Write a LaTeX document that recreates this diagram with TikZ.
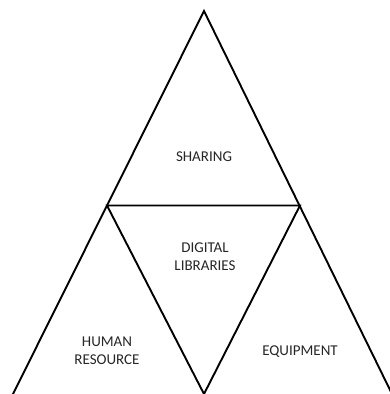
\documentclass[tikz,border=0pt]{standalone}
\usepackage{fontspec}
\setmainfont{Carlito}
\begin{document}
\begin{tikzpicture}[x=1bp,y=-1bp,
  edge/.style={line width=1.9bp,line join=miter},
  lbl/.style={font=\fontsize{15bp}{18bp}\selectfont,align=center,text=black!85,inner sep=0pt}]
\useasboundingbox (0,0) rectangle (390,394);
\begin{scope}
\clip (0,0) rectangle (390,394);
\coordinate (A) at (204,11);
\coordinate (L) at (12,396);
\coordinate (R) at (393,396);
\coordinate (ML) at (107,205.5);
\coordinate (MR) at (300,205.5);
\coordinate (B) at (204,394);
\draw[edge] (L) -- (A) -- (R);
\draw[edge] (ML) -- (MR) -- (B) -- cycle;
\end{scope}
\node[lbl] (sharing) at (204,157) {SHARING};
\node[lbl] (digital) at (205,256.5) {DIGITAL\\LIBRARIES};
\node[lbl] (human) at (107,351) {HUMAN\\RESOURCE};
\node[lbl] (equip) at (300,352) {EQUIPMENT};
\end{tikzpicture}
\end{document}
